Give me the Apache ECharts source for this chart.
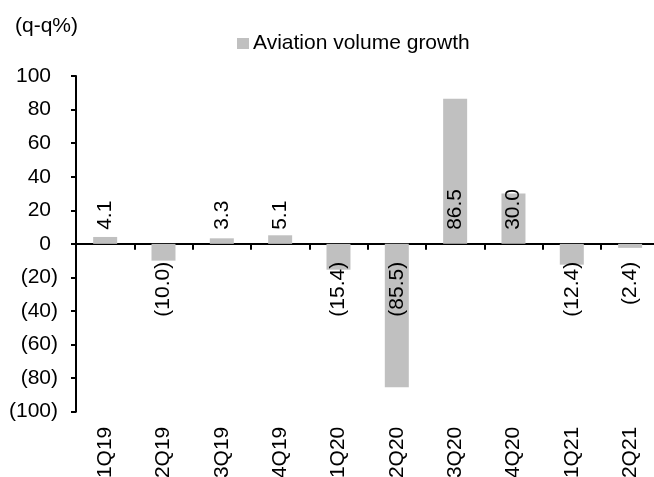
<!DOCTYPE html>
<html>
<head>
<meta charset="utf-8">
<script src="https://cdn.jsdelivr.net/npm/echarts@6/dist/echarts.min.js"></script>
<style>
html,body{margin:0;padding:0;background:#fff;}
#chart{width:654px;height:477px;}
</style>
</head>
<body>
<div id="chart"></div>
<script>
var categories = ['1Q19','2Q19','3Q19','4Q19','1Q20','2Q20','3Q20','4Q20','1Q21','2Q21'];
var growth = [4.1, -10.0, 3.3, 5.1, -15.4, -85.5, 86.5, 30.0, -12.4, -2.4];
var seriesName = 'Aviation volume growth';
var unitLabel = '(q-q%)';
var yTicks = {min: -100, max: 100, step: 20};

var FONT = 'Liberation Sans, Arial, sans-serif';
var FS = 21;

function fmtLabel(v){
  var s = Math.abs(v).toFixed(1);
  return v < 0 ? '(' + s + ')' : s;
}

var posLabel = {
  show: true, position: 'insideBottom', distance: 14, rotate: 90,
  align: 'left', verticalAlign: 'middle',
  color: '#000', fontSize: FS, fontFamily: FONT, textBorderWidth: 0
};
var negLabel = {
  show: true, position: 'insideTop', distance: 18, rotate: 90,
  align: 'right', verticalAlign: 'middle',
  color: '#000', fontSize: FS, fontFamily: FONT, textBorderWidth: 0
};

var chart = echarts.init(document.getElementById('chart'), null, {renderer: 'canvas'});
chart.setOption({
  animation: false,
  backgroundColor: '#fff',
  title: {
    text: unitLabel, left: 10, top: 11,
    textStyle: {fontSize: FS, fontWeight: 'normal', color: '#000', fontFamily: FONT}
  },
  legend: {
    data: [seriesName], left: 232, top: 28,
    itemWidth: 12, itemHeight: 11, itemGap: 10,
    icon: 'rect',
    textStyle: {fontSize: FS, color: '#000', fontFamily: FONT, padding: [0,0,0,-1]}
  },
  grid: {left: 76, top: 76, bottom: 65.3, right: -5.3, containLabel: false, outerBoundsMode: 'none'},
  xAxis: [
    {
      type: 'category', data: categories, position: 'bottom',
      axisLine: {onZero: true, lineStyle: {color: '#000', width: 2}},
      axisTick: {show: true, alignWithLabel: false, length: 6, lineStyle: {color: '#000', width: 2}},
      axisLabel: {show: false},
      splitLine: {show: false}
    },
    {
      type: 'category', data: categories, position: 'bottom',
      axisLine: {show: false, onZero: false},
      axisTick: {show: false},
      axisLabel: {show: true, rotate: 90, margin: 15, interval: 0,
        fontSize: FS, color: '#000', fontFamily: FONT},
      splitLine: {show: false}
    }
  ],
  yAxis: {
    type: 'value', min: yTicks.min, max: yTicks.max, interval: yTicks.step,
    axisLine: {show: true, lineStyle: {color: '#000', width: 2}},
    axisTick: {show: true, length: 5, inside: false, lineStyle: {color: '#000', width: 2}},
    splitLine: {show: false},
    axisLabel: {
      margin: 18, fontSize: FS, color: '#000', fontFamily: FONT,
      formatter: function(v){
        if (v < 0) return '(' + Math.abs(v) + ')';
        return v + '{h|)}';
      },
      rich: {h: {color: 'rgba(0,0,0,0)', fontSize: FS, fontFamily: FONT}}
    }
  },
  series: [{
    name: seriesName, type: 'bar', xAxisIndex: 0, barWidth: 24,
    itemStyle: {color: '#c0c0c0'},
    data: growth.map(function(v){
      return {value: v, label: Object.assign({formatter: fmtLabel(v)}, v < 0 ? negLabel : posLabel)};
    })
  }]
});
</script>
</body>
</html>
